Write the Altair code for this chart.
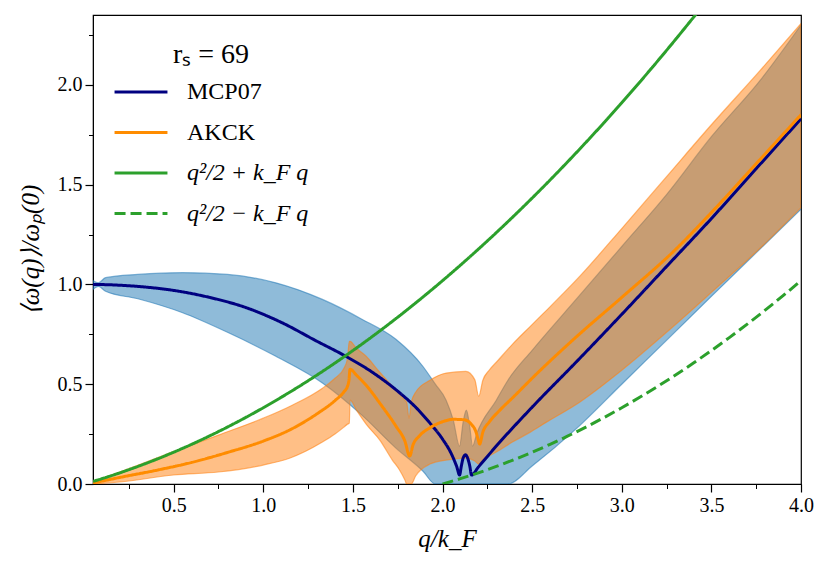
import altair as alt
import pandas as pd

# ---------------- data ----------------
S_MCP = "MCP07"
S_AKCK = "AKCK"
S_PLUS = "q²/2 + k_F q"
S_MINUS = "q²/2 − k_F q"

q_mcp = [0.05, 0.15, 0.3, 0.5, 0.7, 0.9, 1.1, 1.3, 1.45, 1.6, 1.75, 1.85, 1.93, 2.0,
         2.05, 2.08, 2.095, 2.105, 2.115, 2.128, 2.14, 2.152, 2.162, 2.2, 2.3, 2.5,
         2.75, 3.0, 3.25, 3.5, 3.75, 4.0]
y_mcp = [1.000, 0.998, 0.990, 0.970, 0.935, 0.885, 0.810, 0.715, 0.645, 0.565, 0.465,
         0.385, 0.305, 0.225, 0.150, 0.085, 0.045, 0.090, 0.130, 0.146, 0.130, 0.090,
         0.045, 0.085, 0.190, 0.385, 0.615, 0.850, 1.090, 1.330, 1.580, 1.830]

q_akck = [0.05, 0.2, 0.4, 0.6, 0.8, 1.0, 1.15, 1.3, 1.4, 1.45, 1.47, 1.478, 1.484,
          1.52, 1.574, 1.65, 1.74, 1.79, 1.817, 1.835, 1.87, 1.93, 2.0, 2.06, 2.12,
          2.16, 2.185, 2.2, 2.207, 2.225, 2.26, 2.32, 2.4, 2.5, 2.75, 3.0, 3.3, 3.5,
          3.75, 4.0]
y_akck = [0.005, 0.033, 0.068, 0.108, 0.158, 0.215, 0.272, 0.352, 0.418, 0.462, 0.490,
          0.520, 0.575, 0.545, 0.495, 0.405, 0.290, 0.215, 0.140, 0.195, 0.240, 0.282,
          0.312, 0.324, 0.322, 0.300, 0.265, 0.220, 0.200, 0.260, 0.310, 0.370, 0.440,
          0.530, 0.740, 0.935, 1.175, 1.360, 1.605, 1.850]

q_plus = [0.05, 0.1, 0.2, 0.3, 0.4, 0.5, 0.6, 0.7, 0.8, 0.9, 1.0, 1.1, 1.2, 1.3, 1.4,
          1.5, 1.6, 1.7, 1.8, 1.9, 2.0, 2.1, 2.2, 2.3, 2.4, 2.5, 2.6, 2.7, 2.8, 2.9,
          3.0, 3.1, 3.2, 3.3, 3.4, 3.5]
y_plus = [0.0131, 0.0267, 0.0560, 0.0879, 0.1223, 0.1592, 0.1987, 0.2407, 0.2853,
          0.3324, 0.3821, 0.4343, 0.4890, 0.5463, 0.6062, 0.6686, 0.7335, 0.8010,
          0.8711, 0.9437, 1.0188, 1.0965, 1.1767, 1.2595, 1.3448, 1.4327, 1.5231,
          1.6161, 1.7116, 1.8096, 1.9103, 2.0134, 2.1191, 2.2274, 2.3381, 2.4515]

q_minus = [2.0, 2.1, 2.2, 2.3, 2.4, 2.5, 2.6, 2.7, 2.8, 2.9, 3.0, 3.1, 3.2, 3.3, 3.4,
           3.5, 3.6, 3.7, 3.8, 3.9, 4.0]
y_minus = [0.0, 0.0267, 0.0560, 0.0879, 0.1223, 0.1592, 0.1987, 0.2407, 0.2853, 0.3324,
           0.3821, 0.4343, 0.4890, 0.5463, 0.6062, 0.6686, 0.7335, 0.8010, 0.8711,
           0.9437, 1.0188]

# uncertainty band of MCP07
q_band_mcp = [0.05, 0.08, 0.12, 0.3, 0.55, 0.8, 1.07, 1.33, 1.55, 1.74, 1.89, 1.96,
              2.02, 2.06, 2.095, 2.115, 2.133, 2.15, 2.168, 2.19, 2.30, 2.365, 2.5,
              2.75, 3.0, 3.25, 3.5, 3.77, 4.0]
lo_band_mcp = [0.975, 0.990, 0.966, 0.928, 0.858, 0.760, 0.640, 0.506, 0.345, 0.180,
               0.065, 0.0, 0.0, 0.0, 0.0, 0.0, 0.0, 0.0, 0.0, 0.0, 0.0, 0.0, 0.09,
               0.28, 0.50, 0.72, 0.94, 1.176, 1.377]
hi_band_mcp = [1.020, 1.008, 1.034, 1.050, 1.059, 1.050, 1.008, 0.925, 0.826, 0.725,
               0.590, 0.500, 0.420, 0.320, 0.190, 0.310, 0.370, 0.300, 0.190, 0.250,
               0.420, 0.520, 0.670, 0.930, 1.190, 1.450, 1.740, 2.020, 2.300]

# uncertainty band of AKCK
q_band_akck = [0.05, 0.2, 0.5, 0.75, 1.0, 1.15, 1.33, 1.40, 1.45, 1.47, 1.480, 1.484,
               1.52, 1.574, 1.65, 1.72, 1.76, 1.79, 1.80, 1.813, 1.826, 1.85, 1.93,
               2.02, 2.13, 2.18, 2.202, 2.225, 2.26, 2.30, 2.39, 2.49, 2.58, 2.765,
               3.0, 3.25, 3.5, 3.77, 4.0]
lo_band_akck = [0.000, 0.010, 0.045, 0.060, 0.095, 0.130, 0.210, 0.250, 0.285, 0.300,
                0.305, 0.420, 0.370, 0.300, 0.220, 0.120, 0.070, 0.020, 0.0, 0.0, 0.0,
                0.040, 0.100, 0.120, 0.130, 0.115, 0.100, 0.120, 0.140, 0.160, 0.210,
                0.260, 0.310, 0.410, 0.570, 0.760, 0.960, 1.180, 1.385]
hi_band_akck = [0.012, 0.060, 0.162, 0.245, 0.330, 0.390, 0.480, 0.530, 0.580, 0.630,
                0.715, 0.715, 0.680, 0.640, 0.560, 0.490, 0.450, 0.420, 0.410, 0.330,
                0.410, 0.460, 0.520, 0.556, 0.564, 0.523, 0.440, 0.520, 0.570, 0.610,
                0.700, 0.790, 0.870, 1.040, 1.280, 1.540, 1.800, 2.070, 2.307]

x_ticks = [0.25, 0.5, 0.75, 1.0, 1.25, 1.5, 1.75, 2.0, 2.25, 2.5, 2.75, 3.0, 3.25,
           3.5, 3.75, 4.0]
y_ticks = [0.0, 0.25, 0.5, 0.75, 1.0, 1.25, 1.5, 1.75, 2.0, 2.25]

# ---------------- tables ----------------
frames = []
for name, qs, ys in [(S_MCP, q_mcp, y_mcp), (S_AKCK, q_akck, y_akck),
                     (S_PLUS, q_plus, y_plus), (S_MINUS, q_minus, y_minus)]:
    frames.append(pd.DataFrame({"q": qs, "y": ys, "series": name}))
lines_df = pd.concat(frames, ignore_index=True)

band_mcp_df = pd.DataFrame({"q": q_band_mcp, "lo": lo_band_mcp, "hi": hi_band_mcp})
band_akck_df = pd.DataFrame({"q": q_band_akck, "lo": lo_band_akck, "hi": hi_band_akck})

FONT = "Liberation Serif"
XDOM = [0.05, 4.0]
YDOM = [0.0, 2.35]

xscale = alt.Scale(domain=XDOM, nice=False, zero=False)
yscale = alt.Scale(domain=YDOM, nice=False, zero=False)

IS_MAJOR = "abs(datum.value / 0.5 - round(datum.value / 0.5)) < 0.001"
tick_len = {"condition": {"test": IS_MAJOR, "value": 8}, "value": 4.5}
tick_w = {"condition": {"test": IS_MAJOR, "value": 1.2}, "value": 1.0}
label_expr = f"{IS_MAJOR} ? format(datum.value, '.1f') : ''"

x_axis = alt.Axis(values=x_ticks, labelExpr=label_expr, title="q/k_F",
                  tickSize=tick_len, tickWidth=tick_w, titlePadding=11)
y_axis = alt.Axis(values=y_ticks, labelExpr=label_expr, title="⟨ω(q)⟩/ωₚ(0)",
                  tickSize=tick_len, tickWidth=tick_w, titlePadding=14,
                  titleFontSize=25)

band_mcp = alt.Chart(band_mcp_df).mark_area(
    clip=True, color="#1f77b4", fillOpacity=0.5, stroke="#1f77b4",
    strokeOpacity=0.55, strokeWidth=1.2, interpolate="monotone"
).encode(
    x=alt.X("q:Q", scale=xscale, axis=x_axis),
    y=alt.Y("lo:Q", scale=yscale, axis=y_axis),
    y2="hi:Q",
)

band_akck = alt.Chart(band_akck_df).mark_area(
    clip=True, color="#ff7f0e", fillOpacity=0.5, stroke="#ff7f0e",
    strokeOpacity=0.55, strokeWidth=1.2, interpolate="monotone"
).encode(
    x=alt.X("q:Q", scale=xscale, axis=x_axis),
    y=alt.Y("lo:Q", scale=yscale, axis=y_axis),
    y2="hi:Q",
)

names = [S_MCP, S_AKCK, S_PLUS, S_MINUS]
legend = alt.Legend(
    title="rₛ = 69", orient="none", legendX=20, legendY=26,
    symbolType="stroke", symbolSize=2800, symbolStrokeWidth=3,
    labelFontSize=24, labelColor="black", labelOffset=18,
    titleFontSize=28, titleFontWeight="normal", titleColor="black",
    titleAnchor="middle", titlePadding=-5, rowPadding=0.5, padding=0,
    labelFontStyle=alt.ExprRef("indexof(datum.label, 'q') >= 0 ? 'italic' : 'normal'"),
)

lines = alt.Chart(lines_df).mark_line(clip=True, strokeWidth=3,
                                      interpolate="monotone").encode(
    x=alt.X("q:Q", scale=xscale, axis=x_axis),
    y=alt.Y("y:Q", scale=yscale, axis=y_axis),
    color=alt.Color("series:N", scale=alt.Scale(
        domain=names, range=["#000080", "#ff8c00", "#2ca02c", "#2ca02c"]),
        legend=legend),
    strokeDash=alt.StrokeDash("series:N", scale=alt.Scale(
        domain=names, range=[[1, 0], [1, 0], [1, 0], [11, 5]]), legend=legend),
    order=alt.Order("q:Q"),
)

chart = alt.layer(band_mcp, band_akck, lines).properties(
    width=708, height=469,
    autosize=alt.AutoSizeParams(type="none"),
    padding={"left": 85, "top": 7, "right": 21, "bottom": 70},
    background="white",
).configure(
    font=FONT,
).configure_axis(
    labelFont=FONT, titleFont=FONT, labelFontSize=20, titleFontSize=25,
    labelColor="black", titleColor="black", tickColor="black",
    domainColor="black", labelPadding=3, labelFlush=False, grid=False,
    titleFontStyle="italic", titleFontWeight="normal",
).configure_legend(
    labelFont=FONT, titleFont=FONT,
).configure_view(stroke="black", strokeWidth=1.2)

chart.save("out.html", embed_options={"renderer": "svg", "actions": False})
